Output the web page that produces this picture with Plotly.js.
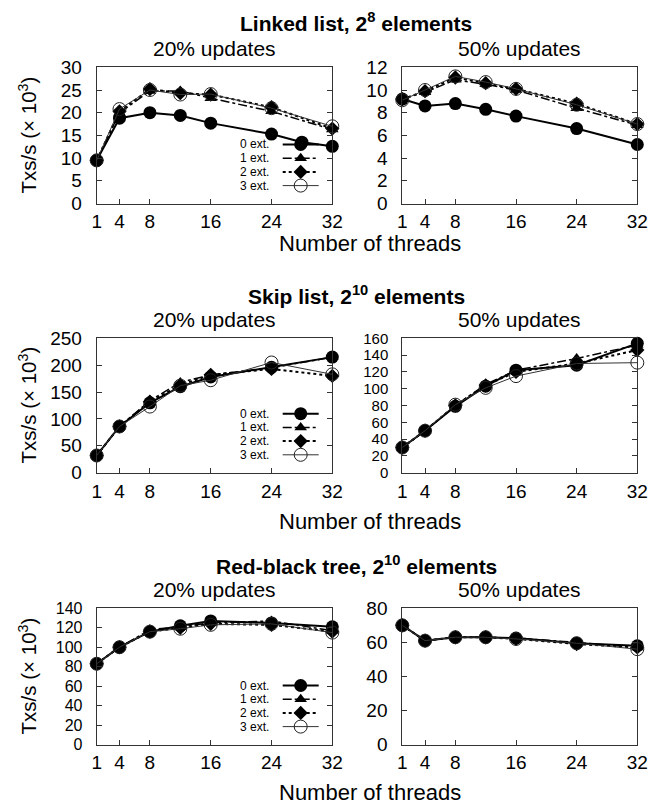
<!DOCTYPE html>
<html>
<head>
<meta charset="utf-8">
<script src="https://cdn.plot.ly/plotly-3.0.1.min.js"></script>
<style>html,body{margin:0;padding:0;background:#fff;}#chart{width:665px;height:806px;}</style>
</head>
<body>
<div id="chart"></div>
<script>
// ---- data ----
const threads = [1, 4, 8, 12, 16, 24, 32];
const threadsLL20zero = [1, 4, 8, 12, 16, 24, 28, 32];
const seriesNames = ["0 ext.", "1 ext.", "2 ext.", "3 ext."];
const xTicks = [1, 4, 8, 16, 24, 32];

// Linked list, 2^8 elements
const ll20_0 = [9.5, 18.8, 20.0, 19.4, 17.7, 15.3, 13.5, 12.6];
const ll20_1 = [9.5, 20.0, 24.8, 24.8, 23.2, 20.3, 16.3];
const ll20_2 = [9.5, 20.3, 25.2, 24.3, 24.0, 21.2, 16.5];
const ll20_3 = [9.5, 20.8, 25.0, 24.0, 24.1, 21.0, 17.0];
const ll50_0 = [9.2, 8.6, 8.8, 8.3, 7.7, 6.6, 5.2];
const ll50_1 = [9.2, 9.8, 10.9, 10.5, 10.0, 8.4, 6.9];
const ll50_2 = [9.2, 9.9, 11.1, 10.6, 10.1, 8.8, 7.0];
const ll50_3 = [9.1, 10.0, 11.2, 10.7, 10.1, 8.7, 7.0];

// Skip list, 2^10 elements
const sl20_0 = [32, 86, 130, 160, 178, 196, 215];
const sl20_1 = [32, 86, 134, 168, 182, 195, 215];
const sl20_2 = [32, 86, 132, 163, 182, 193, 180];
const sl20_3 = [32, 86, 123, 162, 172, 205, 183];
const sl50_0 = [30, 50, 79, 103, 122, 128, 154];
const sl50_1 = [30, 50, 80, 105, 122, 136, 152];
const sl50_2 = [30, 50, 80, 104, 120, 130, 146];
const sl50_3 = [30, 50, 81, 101, 115, 130, 131];

// Red-black tree, 2^10 elements
const rb20_0 = [83, 100, 116, 122, 127, 125, 121];
const rb20_1 = [83, 100, 118, 121, 125, 127, 117];
const rb20_2 = [83, 100, 116, 120, 124, 123, 116];
const rb20_3 = [83, 100, 116, 119, 123, 124, 115];
const rb50_0 = [70, 61, 63, 63, 62.5, 59.5, 58];
const rb50_1 = [70, 61, 63, 63, 62.5, 60, 57];
const rb50_2 = [70, 61, 63, 63, 62, 59, 57];
const rb50_3 = [70, 61, 63, 63, 62, 59.5, 56];

const panelTitles = ["<b>Linked list, 2<sup>8</sup> elements</b>",
                     "<b>Skip list, 2<sup>10</sup> elements</b>",
                     "<b>Red-black tree, 2<sup>10</sup> elements</b>"];
const subTitles = ["20% updates", "50% updates"];
const xTitle = "Number of threads";
const yTitle = "Txs/s (× 10<sup>3</sup>)";

// ---- styles ----
const FONT = "Liberation Sans, Arial, Helvetica, sans-serif";
const styles = [
  {line: {color: "#000", width: 2, dash: "solid"}, marker: {symbol: "circle", size: 13, color: "#000"}},
  {line: {color: "#000", width: 1.5, dash: "dashdot"}, marker: {symbol: "triangle-up", size: 11, color: "#000"}},
  {line: {color: "#000", width: 2, dash: "dot"}, marker: {symbol: "diamond", size: 11, color: "#000"}},
  {line: {color: "#333", width: 1, dash: "solid"}, marker: {symbol: "circle-open", size: 13, color: "#222", line: {width: 1}}}
];

const panels = [
  {xs: [threadsLL20zero, threads, threads, threads], ys: [ll20_0, ll20_1, ll20_2, ll20_3], yr: [0, 30], dt: 5, leg: true, yfs: 19},
  {xs: [threads, threads, threads, threads], ys: [ll50_0, ll50_1, ll50_2, ll50_3], yr: [0, 12], dt: 2, yfs: 19},
  {xs: [threads, threads, threads, threads], ys: [sl20_0, sl20_1, sl20_2, sl20_3], yr: [0, 250], dt: 50, leg: true, yfs: 19},
  {xs: [threads, threads, threads, threads], ys: [sl50_0, sl50_1, sl50_2, sl50_3], yr: [0, 160], dt: 20, yfs: 15},
  {xs: [threads, threads, threads, threads], ys: [rb20_0, rb20_1, rb20_2, rb20_3], yr: [0, 140], dt: 20, leg: true, yfs: 16},
  {xs: [threads, threads, threads, threads], ys: [rb50_0, rb50_1, rb50_2, rb50_3], yr: [0, 80], dt: 20, yfs: 19}
];

const W = 665, H = 806;
const colPx = [[96.7, 332.3], [402.3, 637.3]];
const rowPx = [[67.3, 203.5], [338.3, 472.7], [608.3, 744.5]];
const rowTitleY = [[22, 48, 243], [295, 319, 521], [565, 589, 792]];
const legRowOffsets = [59, 45.3, 31.6, 17.9];   // px above panel bottom
const legSampleLeft = 186;                      // px from panel left
const legTextRight = 174;                       // px from panel left

const traces = [];
const layout = {
  width: W, height: H,
  margin: {l: 0, r: 0, t: 0, b: 0},
  paper_bgcolor: "#fff", plot_bgcolor: "#fff",
  font: {family: FONT, color: "#000", size: 19},
  showlegend: true,
  annotations: []
};
const px2x = (p) => p / W;
const px2y = (p) => 1 - p / H;

let legCount = 0;
panels.forEach((p, i) => {
  const n = i + 1;
  const col = i % 2, row = Math.floor(i / 2);
  const sfx = n === 1 ? "" : String(n);
  const xr = "x" + sfx, yr = "y" + sfx;
  layout["xaxis" + sfx] = {
    domain: [px2x(colPx[col][0]), px2x(colPx[col][1])],
    anchor: yr, range: [1, 32],
    tickmode: "array", tickvals: xTicks,
    ticks: "inside", ticklen: 5, tickcolor: "#333", tickwidth: 1,
    showline: true, linecolor: "#333", linewidth: 1, mirror: true,
    showgrid: false, zeroline: false,
    tickfont: {size: 19, family: FONT, color: "#000"},
    ticklabelstandoff: 1
  };
  layout["yaxis" + sfx] = {
    domain: [px2y(rowPx[row][1]), px2y(rowPx[row][0])],
    anchor: xr, range: p.yr, dtick: p.dt, tick0: 0,
    ticks: "inside", ticklen: 5, tickcolor: "#333", tickwidth: 1,
    showline: true, linecolor: "#333", linewidth: 1, mirror: "ticks",
    showgrid: false, zeroline: false,
    tickfont: {size: p.yfs, family: FONT, color: "#000"},
    ticklabelstandoff: 10
  };
  p.ys.forEach((ys, k) => {
    const st = styles[k];
    const tr = {
      type: "scatter", mode: "lines+markers",
      x: p.xs[k], y: ys, xaxis: xr, yaxis: yr,
      name: "", line: st.line, marker: st.marker,
      cliponaxis: false, showlegend: false
    };
    if (p.leg) {
      legCount += 1;
      const key = legCount === 1 ? "legend" : "legend" + legCount;
      tr.showlegend = true;
      tr.legend = key;
      const rowY = rowPx[row][1] - legRowOffsets[k];
      layout[key] = {
        bgcolor: "rgba(0,0,0,0)", borderwidth: 0,
        font: {size: 10, family: FONT, color: "#000"},
        xanchor: "left", yanchor: "middle", xref: "paper", yref: "paper",
        x: px2x(colPx[col][0] + legSampleLeft - 5), y: px2y(rowY),
        itemwidth: 36, itemsizing: "trace"
      };
      layout.annotations.push({
        text: seriesNames[k], xref: "paper", yref: "paper",
        x: px2x(colPx[col][0] + legTextRight), y: px2y(rowY),
        xanchor: "right", yanchor: "middle", showarrow: false,
        font: {size: 12, family: FONT, color: "#000"}
      });
    }
    traces.push(tr);
  });
});

// titles
rowTitleY.forEach((ty, r) => {
  layout.annotations.push({text: panelTitles[r], x: px2x(356), y: px2y(ty[0]), xref: "paper", yref: "paper",
    xanchor: "center", yanchor: "middle", showarrow: false, font: {size: 21, family: FONT}});
  subTitles.forEach((s, c) => {
    layout.annotations.push({text: s, x: px2x((colPx[c][0] + colPx[c][1]) / 2), y: px2y(ty[1]),
      xref: "paper", yref: "paper", xanchor: "center", yanchor: "middle", showarrow: false,
      font: {size: 21, family: FONT}});
  });
  layout.annotations.push({text: xTitle, x: px2x(370), y: px2y(ty[2]), xref: "paper", yref: "paper",
    xanchor: "center", yanchor: "middle", showarrow: false, font: {size: 22, family: FONT}});
  layout.annotations.push({text: yTitle, x: px2x(28), y: px2y((rowPx[r][0] + rowPx[r][1]) / 2),
    xref: "paper", yref: "paper", xanchor: "center", yanchor: "middle", textangle: -90,
    showarrow: false, font: {size: 20.5, family: FONT}});
});

Plotly.newPlot("chart", traces, layout, {staticPlot: true, displayModeBar: false});
</script>
</body>
</html>
